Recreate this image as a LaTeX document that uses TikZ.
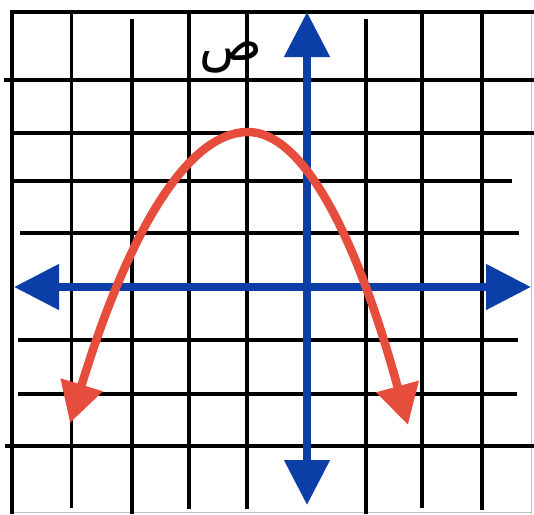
\documentclass[tikz,border=0pt]{standalone}
\usepackage{fontspec}
\newfontfamily\arabicfont[Script=Arabic]{DejaVu Sans}
\TeXXeTstate=1
\usetikzlibrary{arrows.meta}
\definecolor{axisblue}{RGB}{12,62,168}
\definecolor{curvered}{RGB}{231,77,61}
\tikzset{
  gridline/.style={line width=3.8pt,black},
  faintline/.style={line width=1pt,black!25},
  axisline/.style={line width=8pt,axisblue,{Triangle[length=45pt,width=44pt]}-{Triangle[length=45pt,width=44pt]}},
  curveline/.style={line width=8.5pt,curvered,{Triangle[length=40pt,width=42pt]}-{Triangle[length=40pt,width=42pt]}}
}

\begin{document}
\begin{tikzpicture}[x=1pt,y=-1pt]
\useasboundingbox (0,0) rectangle (534,514);
% faint outer edge
\draw[faintline] (531,12)--(531,514);
\draw[faintline] (12,512)--(531,512);
% horizontal grid lines
\foreach \y/\a/\b in {12/10/534,80/4/534,133/12/534,181/12/512,233/20/519,340/18/518,394/18/517,446/5/534}{\draw[gridline] (\a,\y)--(\b,\y);}
% vertical grid lines
\foreach \x/\a/\b in {12/10/514,71.5/12/508,132/19/514,189/12/509,247/12/509,366/19/514,422/12/508,482/12/510}{\draw[gridline] (\x,\a)--(\x,\b);}
% axes
\coordinate (xLeft) at (14,287);
\coordinate (xRight) at (531,287);
\coordinate (yTop) at (307,12);
\coordinate (yBottom) at (307,505);
\draw[axisline] (xLeft)--(xRight);
\draw[axisline] (yBottom)--(yTop);
% curve
\coordinate (leftEnd) at (70,423);
\coordinate (apex) at (248,132);
\coordinate (rightEnd) at (408,425);
\draw[curveline] (leftEnd) .. controls (129.3,229) and (188.7,132) .. (apex) .. controls (301.3,132) and (354.7,229.7) .. (rightEnd);
\node (yLabel) at (231,57) {\fontsize{52}{52}\selectfont\arabicfont\beginR ص\endR};
\end{tikzpicture}
\end{document}
